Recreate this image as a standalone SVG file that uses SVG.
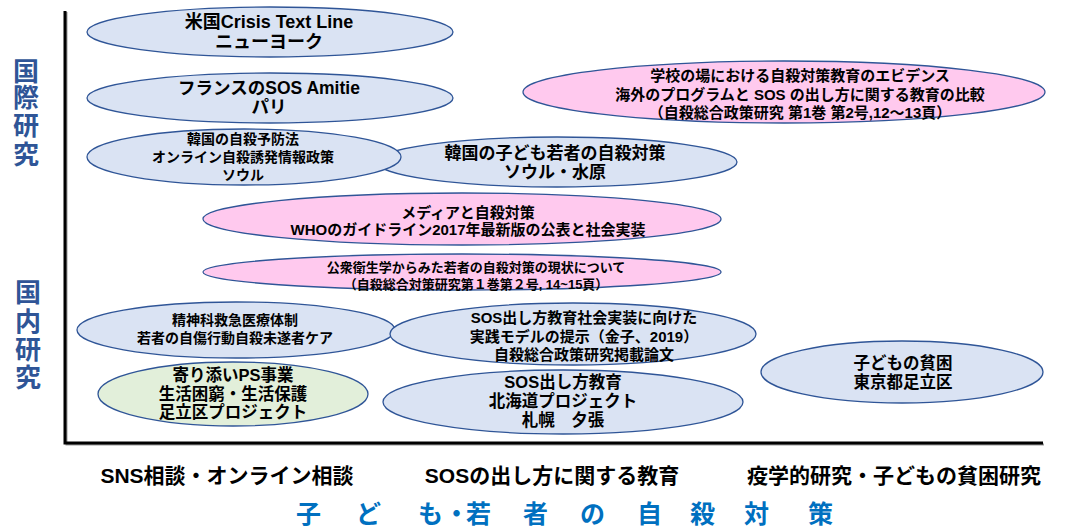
<svg xmlns="http://www.w3.org/2000/svg" width="1072" height="529" viewBox="0 0 1072 529">
<style>
text{font-family:"Liberation Sans","Noto Sans CJK JP",sans-serif;font-weight:bold;fill:#000;text-anchor:middle;dominant-baseline:central}
.b{fill:#DAE3F3;stroke:#2F5597;stroke-width:1.3}
.p{fill:#FFC9EE;stroke:#2F5597;stroke-width:1.3}
.g{fill:#E2EFDA;stroke:#2F5597;stroke-width:1.3}
.axis{fill:none;stroke:#000;stroke-width:3}
.sh{fill:none;stroke:#999;stroke-width:2}
.side{fill:#2F5597;font-size:26px}
.cat{font-size:21px}
.ttl{fill:#0070C0;font-size:25px;text-anchor:start}
</style>
<rect width="1072" height="529" fill="#fff"/>
<g id="axes">
<polyline class="sh" points="66.5,12 66.5,444.5 1044,444.5"/>
<polyline class="axis" points="65,11 65,443 1043,443"/>
</g>
<g id="label-intl"><text class="side" x="26 26 26 26" y="72 98 126 155">国際研究</text></g>
<g id="label-dom"><text class="side" x="28 28 28 28" y="293 322 350 378">国内研究</text></g>
<g id="n1"><ellipse class="b" cx="270" cy="32" rx="183" ry="25"/>
<text font-size="18" x="269" y="22">米国Crisis Text Line</text><text font-size="18" x="269" y="42">ニューヨーク</text></g>
<g id="n2"><ellipse class="b" cx="270" cy="98" rx="183" ry="25"/>
<text font-size="17.5" x="269" y="88">フランスのSOS Amitie</text><text font-size="17.5" x="269" y="107">パリ</text></g>
<g id="n4"><ellipse class="b" cx="557" cy="162" rx="180" ry="25"/>
<text font-size="17" x="555" y="153">韓国の子ども若者の自殺対策</text><text font-size="17" x="555" y="172">ソウル・水原</text></g>
<g id="n3"><ellipse class="b" cx="244" cy="157" rx="157" ry="28"/>
<text font-size="14" x="243" y="139">韓国の自殺予防法</text><text font-size="14" x="243" y="157">オンライン自殺誘発情報政策</text><text font-size="14" x="243" y="175">ソウル</text></g>
<g id="n5"><ellipse class="p" cx="784" cy="92" rx="261" ry="31"/>
<text font-size="15" x="800" y="75">学校の場における自殺対策教育のエビデンス</text>
<text font-size="15" x="800" y="94">海外のプログラムと SOS の出し方に関する教育の比較</text>
<text font-size="15" x="800" y="112">（自殺総合政策研究 第1巻 第2号,12〜13頁）</text></g>
<g id="n6"><ellipse class="p" cx="462" cy="219" rx="259" ry="26"/>
<text font-size="15" x="468" y="212">メディアと自殺対策</text>
<text font-size="15" x="468" y="229">WHOのガイドライン2017年最新版の公表と社会実装</text></g>
<g id="n7"><ellipse class="p" cx="462" cy="272" rx="259" ry="18"/>
<text font-size="13" x="476" y="267">公衆衛生学からみた若者の自殺対策の現状について</text>
<text font-size="13" x="476" y="284">（自殺総合対策研究第１巻第２号, 14~15頁）</text></g>
<g id="n8"><ellipse class="b" cx="236" cy="330" rx="159" ry="28"/>
<text font-size="14" x="235" y="320">精神科救急医療体制</text><text font-size="14" x="235" y="338">若者の自傷行動自殺未遂者ケア</text></g>
<g id="n9"><ellipse class="b" cx="573" cy="334" rx="183" ry="31"/>
<text font-size="15" x="584" y="317">SOS出し方教育社会実装に向けた</text>
<text font-size="15" x="584" y="336">実践モデルの提示（金子、2019）</text>
<text font-size="15" x="584" y="354">自殺総合政策研究掲載論文</text></g>
<g id="n10"><ellipse class="g" cx="233" cy="394" rx="135" ry="32"/>
<text font-size="16.5" x="233" y="375">寄り添いPS事業</text><text font-size="16.5" x="233" y="394">生活困窮・生活保護</text><text font-size="16.5" x="233" y="412">足立区プロジェクト</text></g>
<g id="n11"><ellipse class="b" cx="563" cy="402" rx="180" ry="32"/>
<text font-size="16.5" x="563" y="382">SOS出し方教育</text><text font-size="16.5" x="563" y="401">北海道プロジェクト</text><text font-size="16.5" x="563" y="420">札幌　夕張</text></g>
<g id="n12"><ellipse class="b" cx="902" cy="372" rx="141" ry="31"/>
<text font-size="16.5" x="903" y="363">子どもの貧困</text><text font-size="16.5" x="903" y="382">東京都足立区</text></g>
<g id="categories">
<text class="cat" x="227" y="475">SNS相談・オンライン相談</text>
<text class="cat" x="552" y="475">SOSの出し方に関する教育</text>
<text class="cat" x="894" y="475">疫学的研究・子どもの貧困研究</text>
</g>
<g id="title"><text class="ttl" x="296 320 356 380 418 444 466 490 523 547 580 604 637 661 690 714 744 768 808" y="514">子 ど も・若 者 の 自 殺 対 策</text></g>
<g id="connectors"></g>
</svg>
